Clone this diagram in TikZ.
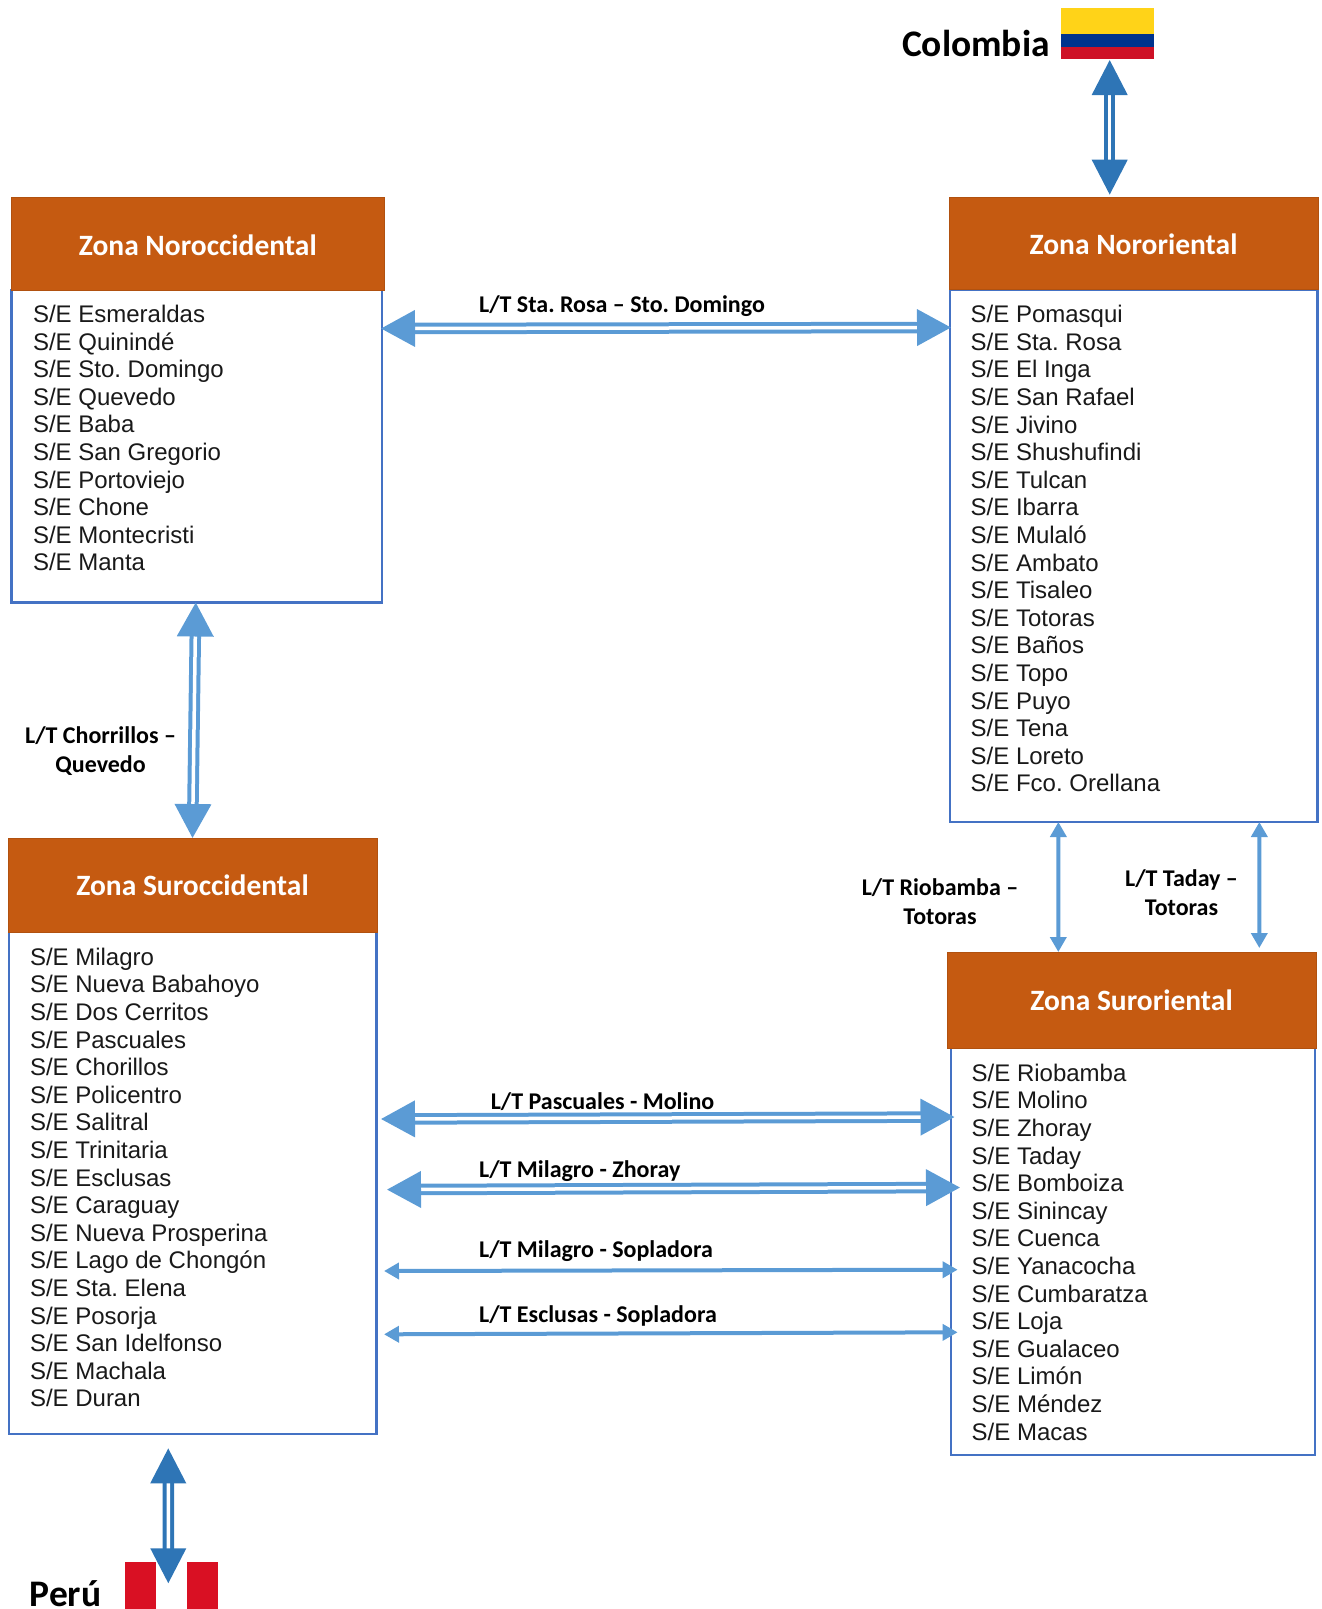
\documentclass[tikz,border=0pt]{standalone}
\usepackage{fontspec}
\setmainfont{Liberation Sans}
\newfontfamily\carl{Carlito}[BoldFont=Carlito Bold]
\usetikzlibrary{arrows.meta}
\definecolor{hdr}{HTML}{C55A11}
\definecolor{bord}{HTML}{4472C4}
\definecolor{lite}{HTML}{5B9BD5}
\definecolor{dark}{HTML}{2E75B6}
\tikzset{
 x=1pt,y=-1pt,
 zonehead/.style={draw=hdr!90!black,line width=0.8pt,fill=hdr,anchor=north west,inner sep=0,outer sep=0,text=white,font=\carl\bfseries\fontsize{29.5}{32}\selectfont},
 zonebody/.style={draw=bord,line width=2.5pt,fill=white,anchor=north west,inner sep=0,outer sep=0},
 sublist/.style={anchor=north west,inner sep=0,align=left,font=\fontsize{24}{27.6}\selectfont,text=black!90},
 linelabel/.style={font=\carl\bfseries\fontsize{24}{29}\selectfont,align=center,inner sep=0},
 countrylabel/.style={font=\carl\bfseries\fontsize{37.5}{40}\selectfont,inner sep=0},
 flagbox/.style={anchor=north west,inner sep=0,outer sep=0},
 bigdouble/.style={draw=lite,double=white,double distance=3.5pt,line width=4pt,{Triangle[length=34pt,width=36pt,fill=lite]}-{Triangle[length=34pt,width=36pt,fill=lite]}},
 darkdouble/.style={draw=dark,double=white,double distance=3.5pt,line width=4pt,{Triangle[length=35pt,width=35pt,fill=dark]}-{Triangle[length=35pt,width=35pt,fill=dark]}},
 thinlink/.style={draw=lite,line width=4pt,{Triangle[length=15pt,width=16pt,fill=lite]}-{Triangle[length=15pt,width=16pt,fill=lite]}},
}
\begin{document}
\frenchspacing
\begin{tikzpicture}
\useasboundingbox (0,0) rectangle (1322,1609);

% ---- zone boxes
\node[zonebody,minimum width=370.5pt,minimum height=312.5pt] (nwbody) at (11.5,290) {};
\node[zonehead,minimum width=373.5pt,minimum height=93pt,text height=23pt,text depth=0pt] (nwhead) at (11,197) {Zona Noroccidental};
\node[sublist] (nwlist) at (32.8,305) {S/E Esmeraldas\\S/E Quinindé\\S/E Sto. Domingo\\S/E Quevedo\\S/E Baba\\S/E San Gregorio\\S/E Portoviejo\\S/E Chone\\S/E Montecristi\\S/E Manta};

\node[zonebody,minimum width=367.5pt,minimum height=532pt] (nebody) at (950,290) {};
\node[zonehead,minimum width=369pt,minimum height=92pt,text height=23pt,text depth=0pt] (nehead) at (949,197) {Zona Nororiental};
\node[sublist] (nelist) at (970.5,305) {S/E Pomasqui\\S/E Sta. Rosa\\S/E El Inga\\S/E San Rafael\\S/E Jivino\\S/E Shushufindi\\S/E Tulcan\\S/E Ibarra\\S/E Mulaló\\S/E Ambato\\S/E Tisaleo\\S/E Totoras\\S/E Baños\\S/E Topo\\S/E Puyo\\S/E Tena\\S/E Loreto\\S/E Fco. Orellana};

\node[zonebody,minimum width=367.5pt,minimum height=502pt] (swbody) at (9,932) {};
\node[zonehead,minimum width=369pt,minimum height=94pt] (swhead) at (8,838) {Zona Suroccidental};
\node[sublist] (swlist) at (29.8,947.7) {S/E Milagro\\S/E Nueva Babahoyo\\S/E Dos Cerritos\\S/E Pascuales\\S/E Chorillos\\S/E Policentro\\S/E Salitral\\S/E Trinitaria\\S/E Esclusas\\S/E Caraguay\\S/E Nueva Prosperina\\S/E Lago de Chongón\\S/E Sta. Elena\\S/E Posorja\\S/E San Idelfonso\\S/E Machala\\S/E Duran};

\node[zonebody,minimum width=364pt,minimum height=407pt] (sebody) at (951,1048) {};
\node[zonehead,minimum width=369pt,minimum height=96pt] (sehead) at (947,952) {Zona Suroriental};
\node[sublist] (selist) at (971.5,1063.7) {S/E Riobamba\\S/E Molino\\S/E Zhoray\\S/E Taday\\S/E Bomboiza\\S/E Sinincay\\S/E Cuenca\\S/E Yanacocha\\S/E Cumbaratza\\S/E Loja\\S/E Gualaceo\\S/E Limón\\S/E Méndez\\S/E Macas};

% ---- flags
\node[flagbox,fill={rgb,255:red,255;green,211;blue,24},minimum width=93pt,minimum height=51pt] (colflag) at (1061,8) {};
\fill[fill={rgb,255:red,0;green,51;blue,141}] (1061,34) rectangle (1154,47);
\fill[fill={rgb,255:red,206;green,17;blue,38}] (1061,47) rectangle (1154,59);
\node[countrylabel,anchor=base east] (colname) at (1050,56) {Colombia};

\node[flagbox,fill={rgb,255:red,217;green,16;blue,35},minimum width=93pt,minimum height=47pt] (peruflag) at (125,1562) {};
\fill[white] (156,1562) rectangle (187,1609);
\node[countrylabel,anchor=base west] (pername) at (29.5,1606) {Perú};

% ---- connectors
\draw[darkdouble] ([xshift=2.2pt,yshift=-1pt]colflag.south) -- ([xshift=-23.8pt,yshift=2.3pt]nehead.north);
\draw[darkdouble] ([xshift=-24.5pt,yshift=-14.3pt]swbody.south) -- ([xshift=-3.2pt,yshift=-21.3pt]peruflag.north);
\draw[bigdouble] ([xshift=-1pt,yshift=117.75pt]nwbody.east) -- ([xshift=1pt,yshift=228.5pt]nebody.west);
\draw[bigdouble] ([xshift=-1pt]nwbody.south) -- (swhead.north);
\draw[bigdouble] ([xshift=4.5pt,yshift=64pt]swbody.east) -- ([xshift=3.5pt,yshift=134.5pt]sebody.west);
\draw[bigdouble] ([xshift=10.5pt,yshift=-6.6pt]swbody.east) -- ([xshift=9pt,yshift=64pt]sebody.west);
\draw[thinlink] ([xshift=7.5pt,yshift=-88pt]swbody.east) -- ([xshift=6.6pt,yshift=-18.2pt]sebody.west);
\draw[thinlink] ([xshift=7.5pt,yshift=-151.3pt]swbody.east) -- ([xshift=6.6pt,yshift=-80.8pt]sebody.west);
\draw[thinlink] ([xshift=-75.4pt]nebody.south) -- ([xshift=-73.2pt]sehead.north);
\draw[thinlink] ([xshift=125.6pt]nebody.south) -- ([xshift=127.8pt,yshift=4pt]sehead.north);

% ---- line labels
\node[linelabel,anchor=west] (lrosa) at (479,306) {L/T Sta. Rosa – Sto. Domingo};
\node[linelabel] (lchor) at (100.6,751.5) {L/T Chorrillos –\\Quevedo};
\node[linelabel] (lrio) at (940,901.5) {L/T Riobamba –\\Totoras};
\node[linelabel] (ltad) at (1181.5,892.5) {L/T Taday –\\Totoras};
\node[linelabel,anchor=west] (lpas) at (490.6,1102) {L/T Pascuales - Molino};
\node[linelabel,anchor=west] (lzho) at (479,1171) {L/T Milagro - Zhoray};
\node[linelabel,anchor=west] (lsop) at (479,1251) {L/T Milagro - Sopladora};
\node[linelabel,anchor=west] (lesc) at (479,1315.5) {L/T Esclusas - Sopladora};
\end{tikzpicture}
\end{document}
